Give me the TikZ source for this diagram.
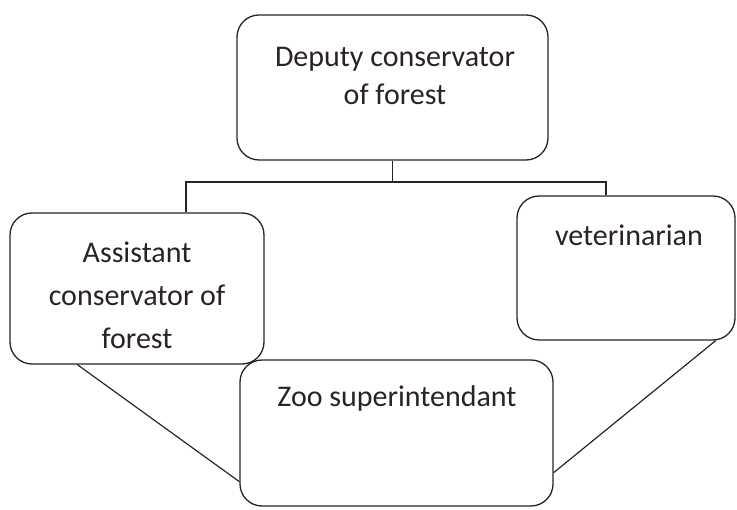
\documentclass[tikz,border=0pt]{standalone}
\usepackage{fontspec}
\setmainfont{Carlito}
\usetikzlibrary{positioning}

\definecolor{inkline}{HTML}{2B2226}

\tikzset{
  orgbox/.style={draw=inkline, rounded corners=22pt, line width=1.3pt, inner sep=0pt},
  orgtext/.style={inner sep=0pt, align=center, text=inkline, font=\fontsize{30}{36}\selectfont},
  orglink/.style={draw=inkline, line width=1.2pt}
}

\begin{document}
\begin{tikzpicture}[x=1pt, y=-1pt]
	\useasboundingbox (0,0) rectangle (737,510);
	% boxes
	\node[orgbox, minimum width=311pt, minimum height=145pt] (dcf) at (392.5,87.5) {};
	\node[orgbox, minimum width=254pt, minimum height=151pt] (acf) at (137,288.5) {};
	\node[orgbox, minimum width=218pt, minimum height=144pt] (vet) at (626,268) {};
	\node[orgbox, minimum width=313pt, minimum height=146pt] (zoo) at (396.5,433) {};
	% texts
	\node[orgtext, anchor=north, font=\fontsize{30}{38}\selectfont] (dcftext) at (395,47) {Deputy conservator\\of forest};
	\node[orgtext, anchor=north, font=\fontsize{30}{43}\selectfont] (acftext) at (137,242) {Assistant\\conservator of\\forest};
	\node[orgtext, anchor=base] (vettext) at (629,246) {veterinarian};
	\node[orgtext, anchor=base] (zootext) at (397,407) {Zoo superintendant};
	% links
	\coordinate (barL) at (186,182);
	\coordinate (barR) at (606,182);
	\draw[orglink] (dcf.south) -- (dcf.south |- barL);
	\draw[orglink] (barL |- acf.north) -- (barL) -- (barR) -- (barR |- vet.north);
	\draw[orglink] ([xshift=68pt]acf.south west) -- ([yshift=25pt]zoo.south west);
	\draw[orglink] ([xshift=-20pt]vet.south east) -- ([yshift=34pt]zoo.south east);
\end{tikzpicture}
\end{document}
